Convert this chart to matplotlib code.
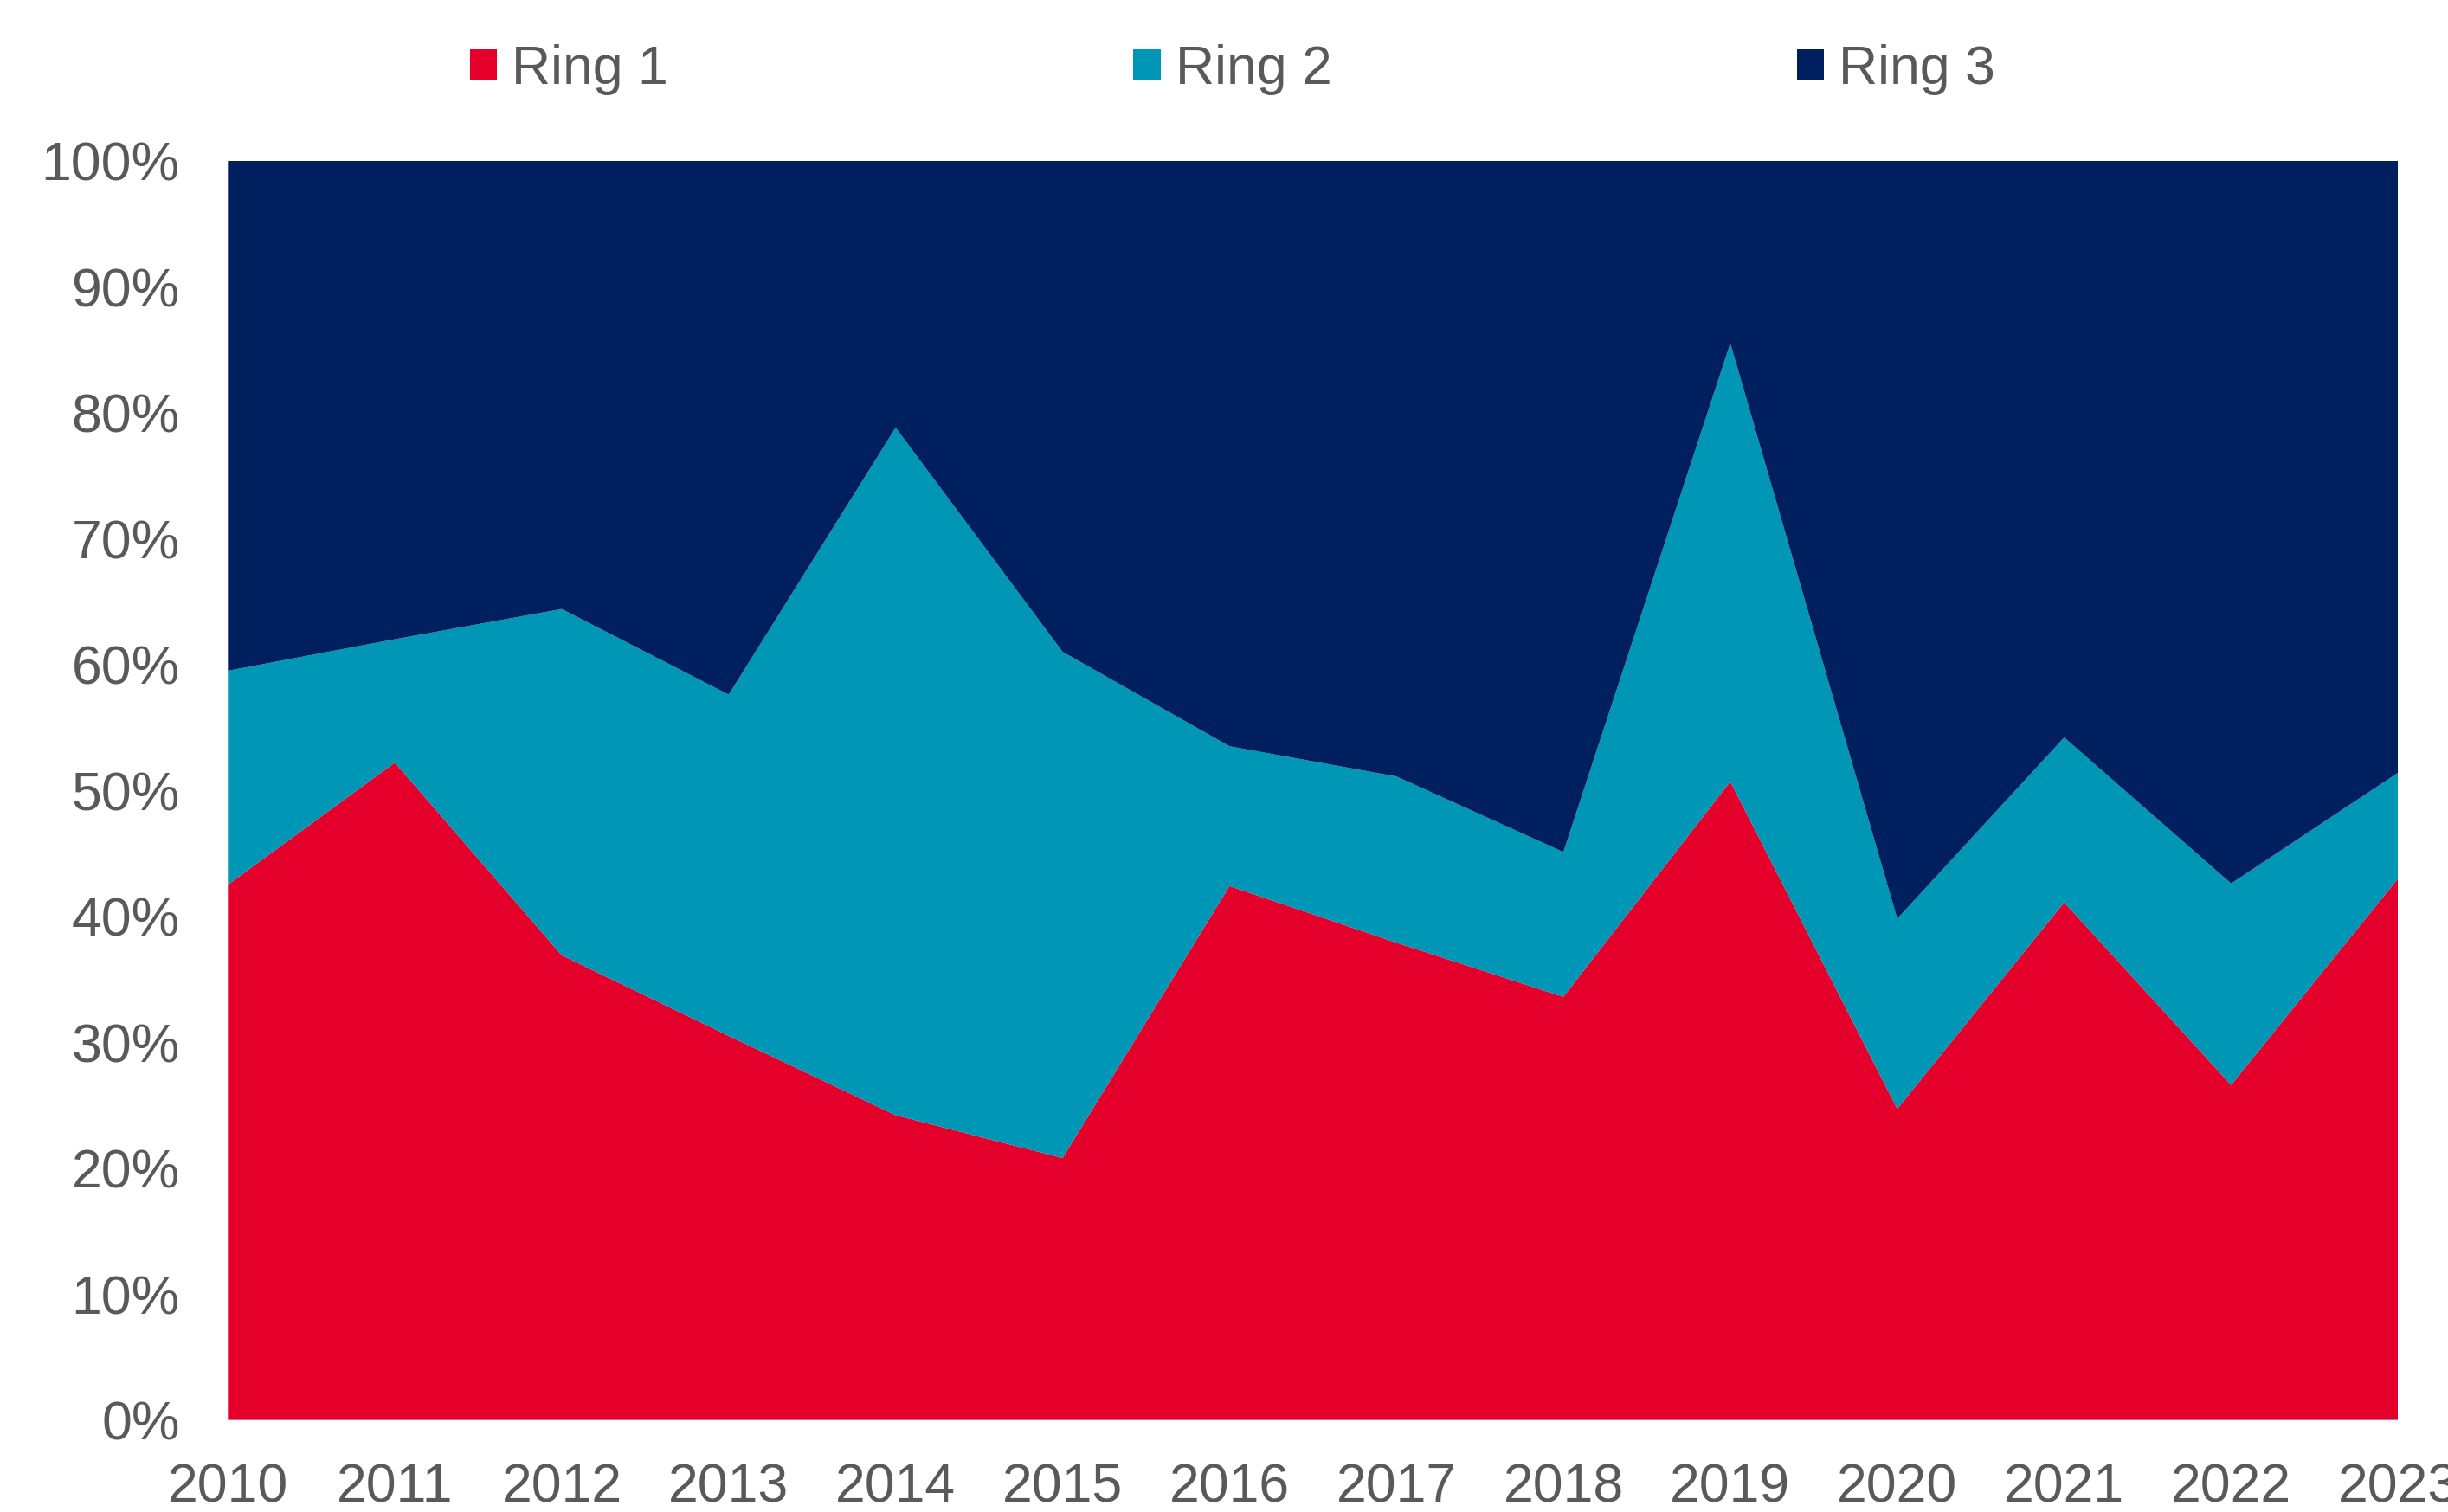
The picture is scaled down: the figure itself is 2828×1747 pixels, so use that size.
import matplotlib.pyplot as plt
from matplotlib.patches import Patch
from matplotlib.ticker import PercentFormatter

plt.rcParams['font.family'] = ['Liberation Sans', 'DejaVu Sans']

years = list(range(2010, 2024))
# share of each ring, percent
ring1 = [42.5, 52.2, 36.9, 30.5, 24.2, 20.8, 42.4, 37.9, 33.6, 50.7, 24.7, 41.1, 26.6, 43.0]
ring2 = [17.0, 9.8, 27.5, 27.1, 54.6, 40.2, 11.1, 13.2, 11.5, 34.8, 15.1, 13.1, 16.0, 8.4]
ring3 = [100 - a - b for a, b in zip(ring1, ring2)]

labels = ['Ring 1', 'Ring 2', 'Ring 3']
colors = ['#E4002B', '#0096B6', '#001F5F']
grey = '#595959'

fig = plt.figure(figsize=(28.28, 17.47), dpi=100)
ax = fig.add_axes([0.0931, 0.0609, 0.8865, 0.8328])

ax.stackplot(years, ring1, ring2, ring3, colors=colors, linewidth=0)
ax.set_xlim(2010, 2023)
ax.set_ylim(0, 100)
ax.set_xticks(years)
ax.set_yticks(range(0, 101, 10))
ax.yaxis.set_major_formatter(PercentFormatter(decimals=0))
ax.tick_params(axis='both', length=0, labelsize=45, labelcolor=grey)
ax.tick_params(axis='x', pad=35)
ax.tick_params(axis='y', pad=40)
for s in ax.spines.values():
    s.set_visible(False)

handles = [Patch(facecolor=c, edgecolor='none') for c in colors]
fig.legend(handles, labels, loc='center', bbox_to_anchor=(0.5035, 0.954), ncol=3,
           frameon=False, fontsize=45, labelcolor=grey, handlelength=0.5,
           handleheight=0.5, handletextpad=0.27, columnspacing=8.6)

fig.savefig('out.png', dpi=100)
